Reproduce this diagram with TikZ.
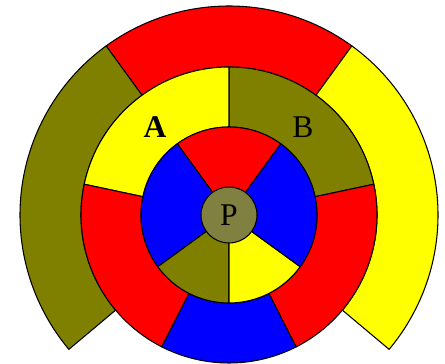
\documentclass[tikz,border=0pt]{standalone}
\usepackage{fontspec}
\setmainfont{Liberation Serif}
\definecolor{cred}{HTML}{FF0000}
\definecolor{cyel}{HTML}{FFFF00}
\definecolor{colive}{HTML}{808000}
\definecolor{cblue}{HTML}{0000FF}
\definecolor{cpole}{HTML}{808040}
\newcommand{\mysector}[5]{%
  \filldraw[sector, fill=#1] (#2:#4) arc[start angle=#2, end angle=#3, radius=#4]
    -- (#3:#5) arc[start angle=#3, end angle=#2, radius=#5] -- cycle;}
\begin{document}
\begin{tikzpicture}[x=0.02cm,y=0.02cm,
  sector/.style={draw=black, line width=0.6pt, line join=round},
  lbl/.style={font=\fontsize{18}{20}\selectfont, inner sep=0pt}]
\useasboundingbox (-229,-149) rectangle (216,215);
% outer ring
\mysector{cred}{54}{126}{148}{209}
\mysector{colive}{126}{220}{148}{209}
\mysector{cyel}{-40}{54}{148}{209}
% middle ring
\mysector{colive}{12}{90}{88}{148}
\mysector{cyel}{90}{168}{88}{148}
\mysector{cred}{168}{243}{88}{148}
\mysector{cblue}{243}{297}{88}{148}
\mysector{cred}{-63}{12}{88}{148}
% inner ring
\mysector{cred}{54}{126}{0}{88}
\mysector{cblue}{126}{216}{0}{88}
\mysector{colive}{216}{270}{0}{88}
\mysector{cyel}{270}{324}{0}{88}
\mysector{cblue}{-36}{54}{0}{88}
% pole
\node[circle, draw=black, line width=0.6pt, fill=cpole, minimum size=56*0.02cm, inner sep=0pt] (p) at (0,0) {};
\node[lbl] (plbl) at (p.center) {P};
\node[lbl, font=\fontsize{18}{20}\selectfont\bfseries] (a) at (-74,88) {A};
\node[lbl] (b) at (74,88) {B};
\end{tikzpicture}
\end{document}
